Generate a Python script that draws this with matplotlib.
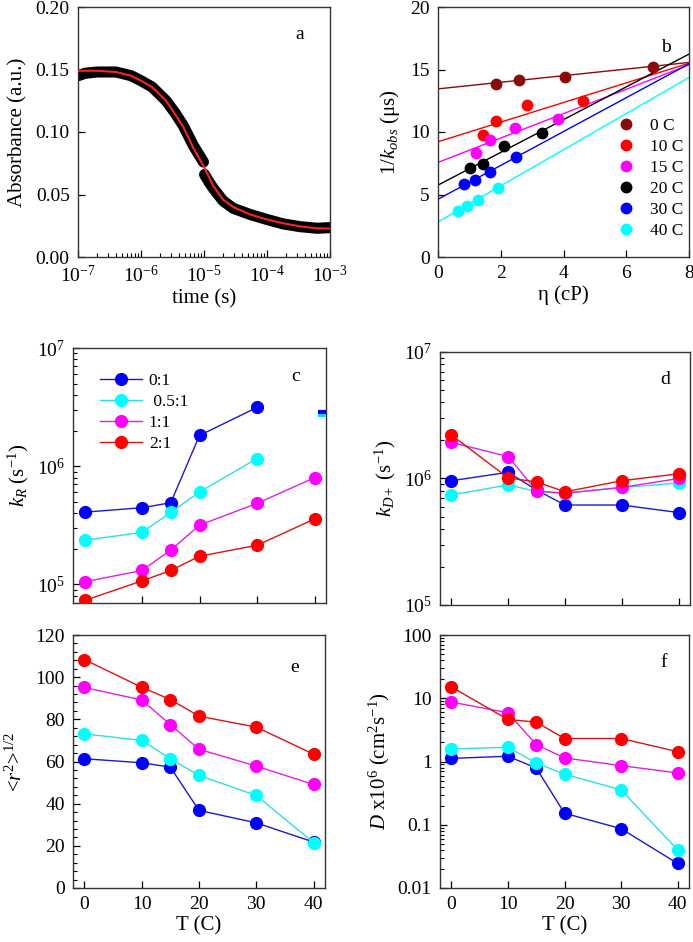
import numpy as np
import matplotlib
matplotlib.use("Agg")
import matplotlib.pyplot as plt
from matplotlib.ticker import AutoMinorLocator, LogLocator, NullFormatter, FixedLocator, FixedFormatter

plt.rcParams['font.family'] = ['Liberation Serif', 'DejaVu Serif']
plt.rcParams['mathtext.fontset'] = 'custom'
plt.rcParams['mathtext.rm'] = 'Liberation Serif'
plt.rcParams['mathtext.it'] = 'Liberation Serif:italic'
plt.rcParams['mathtext.bf'] = 'Liberation Serif:bold'

# ---------------- data ----------------
# panel a: transient absorbance (black data band, red fit)
t_data_early = [1.0e-7, 1.3e-7, 2e-7, 4e-7, 7e-7, 1.0e-6, 1.5e-6, 2.5e-6, 3.5e-6, 4.7e-6, 6.8e-6, 9.8e-6]
a_data_early = [0.145, 0.147, 0.148, 0.148, 0.145, 0.141, 0.136, 0.125, 0.115, 0.105, 0.089, 0.076]
t_data_late = [1.02e-5, 1.2e-5, 1.4e-5, 2.0e-5, 2.9e-5, 5.4e-5, 1.0e-4, 1.8e-4, 3.3e-4, 6.2e-4, 1.0e-3]
a_data_late = [0.066, 0.060, 0.055, 0.045, 0.039, 0.034, 0.030, 0.0265, 0.0243, 0.023, 0.0235]
t_fit = [1e-7, 2e-7, 4e-7, 7e-7, 1e-6, 1.5e-6, 2.5e-6, 3.5e-6, 4.7e-6, 6.8e-6, 1e-5, 1.4e-5,
         2e-5, 2.9e-5, 5.4e-5, 1e-4, 1.8e-4, 3.3e-4, 6.2e-4, 1e-3]
a_fit = [0.149, 0.149, 0.148, 0.145, 0.141, 0.136, 0.125, 0.114, 0.104, 0.087, 0.072, 0.057,
         0.046, 0.040, 0.034, 0.030, 0.027, 0.0245, 0.023, 0.0227]

# panel b: 1/k_obs vs viscosity
b_labels = ['0 C', '10 C', '15 C', '20 C', '30 C', '40 C']
b_colors = ['#8b0a0a', '#ff0000', '#ff00ff', '#000000', '#0000ff', '#00ffff']
b_eta = [[1.85, 2.58, 4.05, 6.85],
         [1.43, 1.84, 2.85, 4.63],
         [1.20, 1.65, 2.44, 3.84],
         [1.02, 1.44, 2.09, 3.33],
         [0.84, 1.17, 1.65, 2.48],
         [0.65, 0.92, 1.28, 1.90]]
b_inv_k = [[13.85, 14.2, 14.44, 15.22],
           [9.76, 10.9, 12.14, 12.45],
           [8.29, 9.38, 10.33, 11.03],
           [7.09, 7.48, 8.9, 9.95],
           [5.82, 6.14, 6.83, 7.97],
           [3.71, 4.09, 4.6, 5.53]]
b_intercept = [13.45, 9.22, 7.57, 5.75, 4.62, 2.81]
b_slope = [0.264, 0.785, 0.975, 1.31, 1.354, 1.444]

# panels c-f: vs temperature
T = [0, 10, 15, 20, 30, 40]
ratio_labels = ['0:1', ' 0.5:1', '1:1', '2:1']
ratio_colors = ['#0000ff', '#00ffff', '#ff00ff', '#ff0000']
line_colors = ['#1a1acc', '#30dede', '#e020e0', '#e01010']

kR_T = [[0, 10, 15, 20, 30], [0, 10, 15, 20, 30], T, T]
kR = [[4.08e5, 4.45e5, 4.9e5, 1.82e6, 3.14e6],
      [2.36e5, 2.75e5, 4.06e5, 6.04e5, 1.16e6],
      [1.05e5, 1.31e5, 1.95e5, 3.17e5, 4.84e5, 7.98e5],
      [7.3e4, 1.07e5, 1.31e5, 1.73e5, 2.14e5, 3.57e5]]
kR_edge_T = [40.6, 42.0]
kR_edge = [2.88e6, 2.72e6]

kD = [[9.6e5, 1.12e6, 8.1e5, 6.17e5, 6.17e5, 5.38e5],
      [7.41e5, 8.9e5, 7.9e5, 7.65e5, 8.5e5, 9.2e5],
      [1.93e6, 1.49e6, 7.98e5, 7.65e5, 8.5e5, 1.0e6],
      [2.21e6, 1.01e6, 9.4e5, 7.85e5, 9.6e5, 1.09e6]]

rms = [[61.3, 59.4, 57.3, 36.8, 30.9, 21.8],
       [73.1, 70.0, 61.3, 53.4, 43.9, 21.5],
       [95.1, 89.2, 77.5, 65.8, 57.8, 49.1],
       [108.3, 95.2, 89.4, 81.5, 76.3, 63.5]]

Dval = [[1.12, 1.21, 0.79, 0.152, 0.0867, 0.0244],
        [1.58, 1.68, 0.946, 0.63, 0.356, 0.040],
        [8.7, 5.9, 1.85, 1.14, 0.86, 0.66],
        [15.1, 4.62, 4.2, 2.31, 2.31, 1.43]]

# ---------------- figure ----------------
W, H = 693, 942
fig = plt.figure(figsize=(W / 100, H / 100), dpi=100)

def ax_px(l, r, t, b):
    return fig.add_axes([l / W, 1 - b / H, (r - l) / W, (b - t) / H])

TICK_FS = 14
LAB_FS = 15
MS = 8.5

def style(ax):
    ax.tick_params(which='both', direction='in', top=False, right=False, labelsize=TICK_FS)
    ax.tick_params(which='major', length=5, width=0.9, pad=6)
    ax.tick_params(which='minor', length=3, width=0.8)
    for s in ax.spines.values():
        s.set_linewidth(1.0)
        s.set_color('#333333')

# ----- a -----
axa = ax_px(78, 330, 7, 257)
axa.plot(t_data_early, a_data_early, color='black', lw=8, solid_capstyle='round', zorder=2)
axa.plot(t_data_late, a_data_late, color='black', lw=8, solid_capstyle='round', zorder=2)
axa.plot(t_fit, a_fit, color='#ff2020', lw=1.5, zorder=3)
axa.set_xscale('log')
axa.set_xlim(1e-7, 1e-3)
axa.set_ylim(0, 0.20)
axa.set_yticks([0, 0.05, 0.10, 0.15, 0.20])
axa.set_yticklabels(['0.00', '0.05', '0.10', '0.15', '0.20'])
axa.xaxis.set_major_locator(LogLocator(base=10, numticks=10))
axa.xaxis.set_minor_locator(LogLocator(base=10, subs=np.arange(2, 10), numticks=10))
axa.xaxis.set_minor_formatter(NullFormatter())
style(axa)
axa.set_xlabel('time (s)', fontsize=LAB_FS, labelpad=2)
axa.set_ylabel('Absorbance (a.u.)', fontsize=LAB_FS, labelpad=6)
axa.text(0.88, 0.89, 'a', transform=axa.transAxes, fontsize=14, ha='center', va='center')

# ----- b -----
axb = ax_px(438, 689, 7, 257)
xs = np.array([0.0, 8.0])
for i in range(len(b_labels)):
    axb.plot(xs, b_intercept[i] + b_slope[i] * xs, color=b_colors[i], lw=1.0, zorder=2)
for i in range(len(b_labels)):
    axb.plot(b_eta[i], b_inv_k[i], 'o', color=b_colors[i], ms=7.5, mec=b_colors[i],
             label=b_labels[i], zorder=3)
axb.set_xlim(0, 8)
axb.set_ylim(0, 20)
axb.set_xticks([0, 2, 4, 6, 8])
axb.set_yticks([0, 5, 10, 15, 20])
style(axb)
axb.set_xlabel('η (cP)', fontsize=LAB_FS, labelpad=2)
axb.set_ylabel('1/$k_{obs}$ (μs)', fontsize=LAB_FS, labelpad=6)
axb.text(0.91, 0.84, 'b', transform=axb.transAxes, fontsize=14, ha='center', va='center')
axb.legend(loc='lower right', bbox_to_anchor=(1.02, 0.03), frameon=False, fontsize=12.5,
           handletextpad=0.9, labelspacing=0.28, handlelength=1.0, borderaxespad=0.2)

# ----- c -----
axc = ax_px(73, 326, 348, 603)
for i in range(4):
    axc.plot(kR_T[i], kR[i], '-o', color=line_colors[i], mfc=ratio_colors[i], mec=ratio_colors[i],
             ms=MS, lw=1.0, label=ratio_labels[i], zorder=3)
axc.plot(kR_edge_T, [kR_edge[0]] * 2, color='#0000ff', lw=3, solid_capstyle='butt', zorder=4)
axc.plot(kR_edge_T, [kR_edge[1]] * 2, color='#00e5ff', lw=3, solid_capstyle='butt', zorder=3)
axc.set_yscale('log')
axc.set_ylim(6.95e4, 1e7)
axc.set_xlim(-2, 42)
axc.set_xticks([0, 10, 20, 30, 40])
axc.set_xticklabels([])
axc.yaxis.set_major_locator(LogLocator(base=10, numticks=10))
axc.yaxis.set_minor_locator(LogLocator(base=10, subs=np.arange(2, 10), numticks=10))
axc.yaxis.set_minor_formatter(NullFormatter())
style(axc)
axc.set_ylabel('$k_R$ (s$^{-1}$)', fontsize=LAB_FS, labelpad=4)
axc.text(0.88, 0.89, 'c', transform=axc.transAxes, fontsize=14, ha='center', va='center')
axc.legend(loc='upper left', bbox_to_anchor=(0.08, 0.93), frameon=False, fontsize=12.5,
           handlelength=2.4, handletextpad=0.4, labelspacing=0.28, borderaxespad=0.0)

# ----- d -----
axd = ax_px(440, 690, 352, 605)
for i in range(4):
    axd.plot(T, kD[i], '-o', color=line_colors[i], mfc=ratio_colors[i], mec=ratio_colors[i],
             ms=MS, lw=1.0, zorder=3)
axd.set_yscale('log')
axd.set_ylim(1e5, 1e7)
axd.set_xlim(-2, 42)
axd.set_xticks([0, 10, 20, 30, 40])
axd.set_xticklabels([])
axd.yaxis.set_major_locator(LogLocator(base=10, numticks=10))
axd.yaxis.set_minor_locator(LogLocator(base=10, subs=np.arange(2, 10), numticks=10))
axd.yaxis.set_minor_formatter(NullFormatter())
style(axd)
axd.set_ylabel('$k_{D+}$ (s$^{-1}$)', fontsize=LAB_FS, labelpad=4)
axd.text(0.9, 0.89, 'd', transform=axd.transAxes, fontsize=14, ha='center', va='center')

# ----- e -----
axe = ax_px(73, 325, 635, 888)
for i in range(4):
    axe.plot(T, rms[i], '-o', color=line_colors[i], mfc=ratio_colors[i], mec=ratio_colors[i],
             ms=MS, lw=1.0, zorder=3)
axe.set_ylim(0, 120)
axe.set_xlim(-2, 42)
axe.set_xticks([0, 10, 20, 30, 40])
axe.set_yticks([0, 20, 40, 60, 80, 100, 120])
axe.yaxis.set_minor_locator(AutoMinorLocator(5))
style(axe)
axe.set_xlabel('T (C)', fontsize=LAB_FS, labelpad=2)
axe.set_ylabel('<$r^2$>$^{\\mathit{1/2}}$', fontsize=LAB_FS, labelpad=6)
axe.text(0.88, 0.87, 'e', transform=axe.transAxes, fontsize=14, ha='center', va='center')

# ----- f -----
axf = ax_px(440, 689, 635, 888)
for i in range(4):
    axf.plot(T, Dval[i], '-o', color=line_colors[i], mfc=ratio_colors[i], mec=ratio_colors[i],
             ms=MS, lw=1.0, zorder=3)
axf.set_yscale('log')
axf.set_ylim(0.01, 100)
axf.set_xlim(-2, 42)
axf.set_xticks([0, 10, 20, 30, 40])
axf.yaxis.set_major_locator(FixedLocator([0.01, 0.1, 1, 10, 100]))
axf.yaxis.set_major_formatter(FixedFormatter(['0.01', '0.1', '1', '10', '100']))
axf.yaxis.set_minor_locator(LogLocator(base=10, subs=np.arange(2, 10), numticks=10))
axf.yaxis.set_minor_formatter(NullFormatter())
style(axf)
axf.set_xlabel('T (C)', fontsize=LAB_FS, labelpad=2)
axf.set_ylabel('$D$ x10$^6$ (cm$^2$s$^{-1}$)', fontsize=LAB_FS, labelpad=4)
axf.text(0.9, 0.89, 'f', transform=axf.transAxes, fontsize=14, ha='center', va='center')

fig.savefig('out.png', dpi=100)
